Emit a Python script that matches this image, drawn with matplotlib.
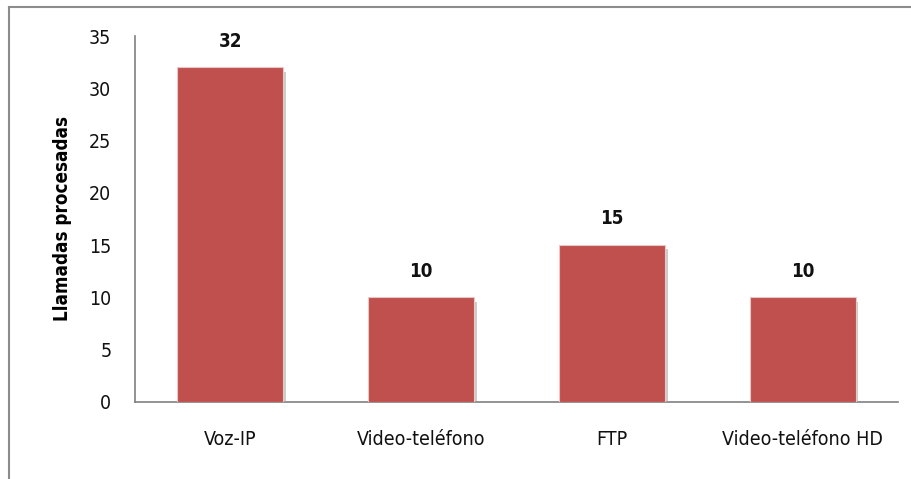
import matplotlib
matplotlib.use('Agg')
import matplotlib.pyplot as plt
import matplotlib.patheffects as pe
from matplotlib.lines import Line2D
import numpy as np

# datos
servicios = ['Voz-IP', 'Video-teléfono', 'FTP', 'Video-teléfono HD']
llamadas = [32, 10, 15, 10]
yticks = [0, 5, 10, 15, 20, 25, 30, 35]

# fuente estrecha parecida a Arial Narrow
plt.rcParams['font.family'] = ['DejaVu Sans']
plt.rcParams['font.stretch'] = 'condensed'

fig = plt.figure(figsize=(9.12, 4.79), dpi=100)
ax = fig.add_axes([0.148, 0.1608, 0.8366, 0.764])

x = np.arange(len(servicios))
bars = ax.bar(x, llamadas, width=0.555, color='#C0504D', edgecolor='#E8C8C7',
              linewidth=0.8, zorder=3)
for b in bars:
    b.set_path_effects([pe.SimplePatchShadow(offset=(2, -3), shadow_rgbFace='#9a9a9a',
                                             alpha=0.5), pe.Normal()])

# etiquetas de valor
for xi, v in zip(x, llamadas):
    ax.text(xi, v + 1.6, str(v), ha='center', va='bottom', fontsize=13.5,
            fontweight='bold', color='#111111')

ax.set_xlim(-0.5, len(servicios) - 0.5)
ax.set_ylim(0, 35)
ax.set_yticks(yticks)
ax.set_xticks(x)
ax.set_xticklabels(servicios)
ax.tick_params(axis='both', length=0, labelsize=14, colors='#111111')
ax.tick_params(axis='y', pad=17)
ax.tick_params(axis='x', pad=20)
ax.set_ylabel('Llamadas procesadas', fontsize=13.5, fontweight='bold', labelpad=12)

for s in ['top', 'right']:
    ax.spines[s].set_visible(False)
for s in ['left', 'bottom']:
    ax.spines[s].set_color('#808080')
    ax.spines[s].set_linewidth(1.2)

# marco exterior
fig.add_artist(Line2D([9 / 912, 1], [1 - 7 / 479, 1 - 7 / 479], transform=fig.transFigure,
                      color='#8c8c8c', linewidth=1.5))
fig.add_artist(Line2D([9 / 912, 9 / 912], [0, 1 - 7 / 479], transform=fig.transFigure,
                      color='#8c8c8c', linewidth=1.5))

fig.savefig('out.png', dpi=100)
